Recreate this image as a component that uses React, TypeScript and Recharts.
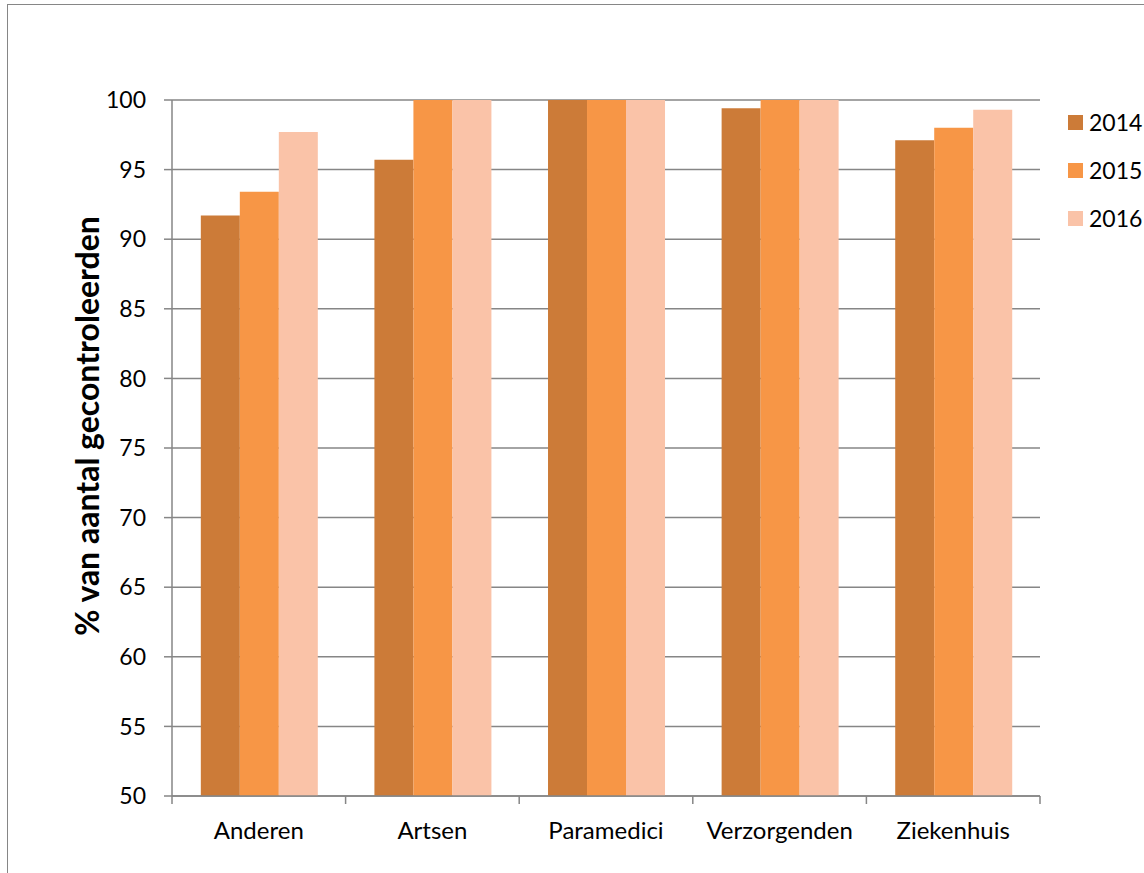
import { Bar, BarChart, CartesianGrid, Legend, XAxis, YAxis } from "recharts";

const categories = ["Anderen", "Artsen", "Paramedici", "Verzorgenden", "Ziekenhuis"];
const values2014 = [91.7, 95.7, 100, 99.4, 97.1];
const values2015 = [93.4, 100, 100, 100, 98.0];
const values2016 = [97.7, 100, 100, 100, 99.3];
const yTicks = [50, 55, 60, 65, 70, 75, 80, 85, 90, 95, 100];
const years = ["2014", "2015", "2016"];

const colors = ["#cc7b38", "#f79646", "#fac3a8"];
const grey = "#868686";
const font = "Lato, 'Open Sans', sans-serif";

const W = 1144;
const H = 873;
const plotLeft = 172;
const plotRight = 1040;
const plotTop = 100;
const plotBottom = 796;
const legendW = 80;
const band = (plotRight - plotLeft) / categories.length;

const data = categories.map((name, i) => ({
  name,
  y2014: values2014[i],
  y2015: values2015[i],
  y2016: values2016[i],
}));

function XTick(props: any) {
  const { x, payload, index } = props;
  const left = x - band / 2;
  return (
    <g>
      <line x1={left} x2={left} y1={plotBottom} y2={plotBottom + 8} stroke={grey} strokeWidth={1.5} />
      {index === categories.length - 1 && (
        <line x1={x + band / 2} x2={x + band / 2} y1={plotBottom} y2={plotBottom + 8} stroke={grey} strokeWidth={1.5} />
      )}
      <text x={x} y={plotBottom + 43} textAnchor="middle" fontSize={24} fill="#000" fontFamily={font}>
        {payload.value}
      </text>
    </g>
  );
}

function LegendBox() {
  return (
    <div style={{ fontFamily: font, fontSize: 23, color: "#000" }}>
      {years.map((y, i) => (
        <div key={y} style={{ display: "flex", alignItems: "center", height: 48 }}>
          <span style={{ width: 15, height: 15, background: colors[i], marginRight: 6 }} />
          {y}
        </div>
      ))}
    </div>
  );
}

export default function App() {
  return (
    <div style={{ position: "fixed", left: 0, top: 0, width: W, height: H, overflow: "hidden", background: "#fff" }}>
      <div
        style={{
          position: "absolute",
          left: 7,
          top: 4,
          width: W + 20,
          height: H + 20,
          border: "1.5px solid " + grey,
        }}
      />
      <div style={{ position: "absolute", left: 0, top: 0 }}>
        <BarChart
          width={W}
          height={H}
          data={data}
          barGap={0}
          barCategoryGap="16.6%"
          margin={{ top: plotTop, right: W - plotRight - legendW, left: 0, bottom: H - plotBottom - 40 }}
        >
          <CartesianGrid vertical={false} stroke={grey} strokeWidth={1.5} />
          <XAxis
            dataKey="name"
            height={40}
            axisLine={{ stroke: grey, strokeWidth: 1.5 }}
            tickLine={false}
            tick={<XTick />}
            interval={0}
          />
          <YAxis
            width={plotLeft}
            domain={[50, 100]}
            ticks={yTicks}
            interval={0}
            tickSize={8}
            tickMargin={18}
            axisLine={{ stroke: grey, strokeWidth: 1.5 }}
            tickLine={{ stroke: grey, strokeWidth: 1.5 }}
            tick={{ fontSize: 23, fill: "#000", fontFamily: font }}
            label={{
              content: () => (
                <text
                  x={86}
                  y={426}
                  transform="rotate(-90 86 426)"
                  textAnchor="middle"
                  dominantBaseline="central"
                  fontSize={32}
                  fontWeight="bold"
                  fontFamily={font}
                  fill="#000"
                >
                  % van aantal gecontroleerden
                </text>
              ),
            }}
          />
          <Legend
            layout="vertical"
            verticalAlign="top"
            align="right"
            content={<LegendBox />}
            wrapperStyle={{ left: 1068, top: 98, width: legendW }}
          />
          <Bar dataKey="y2014" name="2014" fill={colors[0]} isAnimationActive={false} />
          <Bar dataKey="y2015" name="2015" fill={colors[1]} isAnimationActive={false} />
          <Bar dataKey="y2016" name="2016" fill={colors[2]} isAnimationActive={false} />
        </BarChart>
      </div>
    </div>
  );
}
